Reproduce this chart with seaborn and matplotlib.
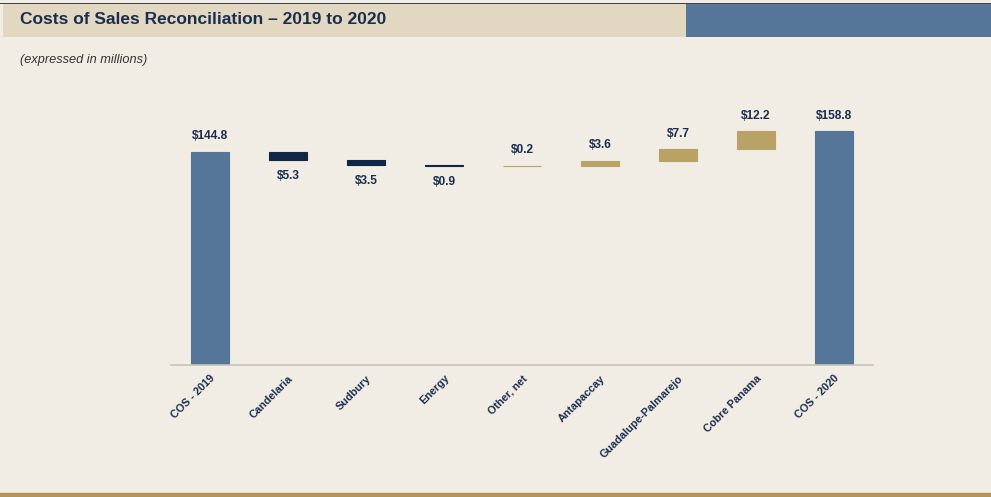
import matplotlib
matplotlib.use("Agg")
import matplotlib.pyplot as plt
from matplotlib.patches import Rectangle
import numpy as np
import pandas as pd
import seaborn as sns

# dados do grafico (em milhoes)
categorias = ["COS - 2019", "Candelaria", "Sudbury", "Energy", "Other, net",
              "Antapaccay", "Guadalupe-Palmarejo", "Cobre Panama", "COS - 2020"]
valores = [144.8, -5.3, -3.5, -0.9, 0.2, 3.6, 7.7, 12.2, 158.8]
tipo = ["total", "down", "down", "down", "up", "up", "up", "up", "total"]
rotulos = ["$144.8", "$5.3", "$3.5", "$0.9", "$0.2", "$3.6", "$7.7", "$12.2", "$158.8"]

cores = {"total": "#557699", "down": "#0E2748", "up": "#B9A266"}
fundo = "#F1ECE4"
texto = "#1B2D4F"

sns.set_theme(style="white")
plt.rcParams['font.family'] = ['Liberation Sans Narrow', 'DejaVu Sans Condensed',
                               'Liberation Sans', 'DejaVu Sans']
plt.rcParams['font.stretch'] = 'condensed'

# calcula base e altura de cada barra do waterfall
base = []
altura = []
acum = 0.0
for v, t in zip(valores, tipo):
    if t == "total":
        base.append(0.0)
        altura.append(v)
        acum = v
    else:
        novo = acum + v
        base.append(min(acum, novo))
        altura.append(abs(v))
        acum = novo

df = pd.DataFrame({"cat": categorias, "altura": altura, "base": base, "tipo": tipo})

fig = plt.figure(figsize=(9.91, 4.97), dpi=100, facecolor=fundo)

# faixa do titulo
fig.patches.append(Rectangle((3 / 991, 1 - 37 / 497), 683 / 991, 34 / 497,
                             transform=fig.transFigure, facecolor="#E2D8C2",
                             edgecolor="none", zorder=0))
fig.patches.append(Rectangle((686 / 991, 1 - 37 / 497), 305 / 991, 34 / 497,
                             transform=fig.transFigure, facecolor="#557699",
                             edgecolor="none", zorder=0))
fig.patches.append(Rectangle((0, 1 - 4 / 497), 1, 1.5 / 497,
                             transform=fig.transFigure, facecolor="#3A4250",
                             edgecolor="none", zorder=1))
# linha dourada no rodape
fig.patches.append(Rectangle((0, 4 / 497), 1, 1.5 / 497, transform=fig.transFigure,
                             facecolor="#E3D9C6", edgecolor="none", zorder=1))
fig.patches.append(Rectangle((0, 0), 1, 4 / 497, transform=fig.transFigure,
                             facecolor="#B0945A", edgecolor="none", zorder=1))

fig.text(20 / 991, 1 - 19 / 497, "Costs of Sales Reconciliation \u2013 2019 to 2020",
         fontsize=12.5, fontweight="bold", color=texto, va="center", ha="left")
fig.text(20 / 991, 1 - 60 / 497, "(expressed in millions)", fontsize=9.2,
         fontstyle="italic", color="#333333", va="center", ha="left",
         family=['Liberation Sans', 'DejaVu Sans'], fontstretch='normal')

ax = fig.add_axes([171 / 991, 132 / 497, 702 / 991, 250 / 497])
ax.set_facecolor(fundo)

sns.barplot(data=df, x="cat", y="altura", bottom=df["base"].values, color="#557699",
            width=0.49, errorbar=None, ax=ax, linewidth=0.8)

for p, t in zip(ax.patches, tipo):
    p.set_facecolor(cores[t])
    p.set_edgecolor(cores[t])

for i, (b, h, t, r) in enumerate(zip(base, altura, tipo, rotulos)):
    if t == "down":
        ax.annotate(r, (i, b), xytext=(0, -7), textcoords="offset points",
                    ha="center", va="top", fontsize=8.6, fontweight="bold", color=texto)
    else:
        ax.annotate(r, (i, b + h), xytext=(0, 7), textcoords="offset points",
                    ha="center", va="bottom", fontsize=8.6, fontweight="bold", color=texto)

ax.set_xlim(-0.5, 8.5)
ax.set_ylim(0, 170)
ax.set_xlabel("")
ax.set_ylabel("")
ax.set_yticks([])
for s in ["top", "right", "left"]:
    ax.spines[s].set_visible(False)
ax.spines["bottom"].set_color("#C9C3B9")
ax.spines["bottom"].set_linewidth(1.2)
ax.tick_params(axis="x", length=0, pad=6)
plt.setp(ax.get_xticklabels(), rotation=45, ha="right", rotation_mode="anchor",
         fontsize=7.8, fontweight="bold", color=texto)

fig.savefig("out.png", dpi=100, facecolor=fundo)
